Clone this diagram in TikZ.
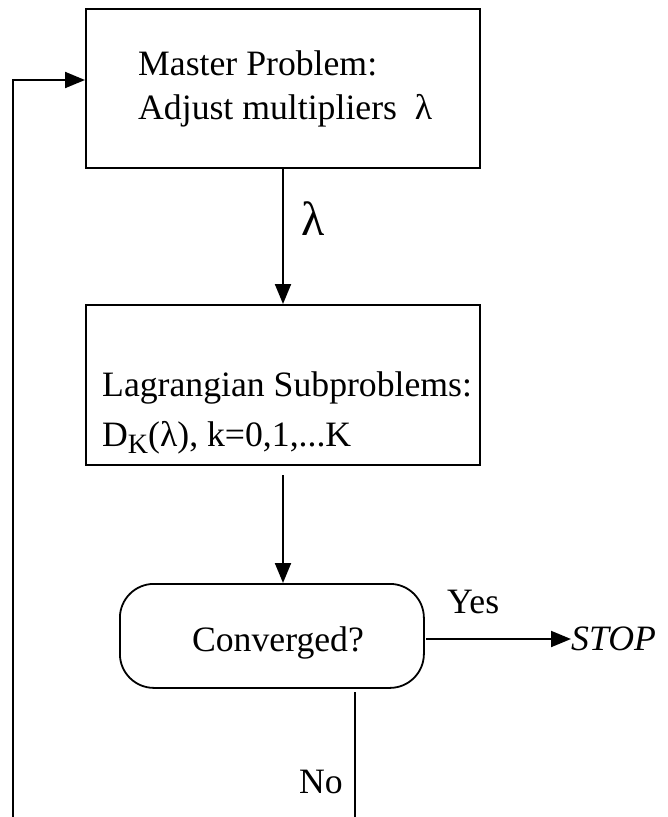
\documentclass[tikz,border=0pt]{standalone}
\usepackage{fontspec}
\setmainfont{Liberation Serif}
\usetikzlibrary{arrows.meta}
\begin{document}
\begin{tikzpicture}[x=1pt,y=-1pt,
  txt/.style={font=\fontsize{35.7}{50}\selectfont, inner sep=0pt},
  boxframe/.style={draw, line width=2.4pt, inner sep=0pt},
  decision/.style={draw, line width=1.8pt, rounded corners=34pt, inner sep=0pt},
  link/.style={line width=2pt, -{Triangle[length=20pt,width=16pt]}},
  plainlink/.style={line width=2pt}]
  \useasboundingbox (0,0) rectangle (667,817);

  % process boxes
  \node[boxframe, minimum width=394pt, minimum height=159pt, anchor=north west] (master) at (85,8) {};
  \node[boxframe, minimum width=394pt, minimum height=160pt, anchor=north west] (sub) at (85,304) {};
  \node[decision, minimum width=304pt, minimum height=104pt, anchor=north west] (conv) at (119,583) {};

  % box texts
  \node[txt, anchor=base west] (mt1) at (138,75) {Master Problem:};
  \node[txt, anchor=base west] (mt2) at (138,119) {Adjust multipliers\ \ λ};
  \node[txt, anchor=base west] (st1) at (102,396) {Lagrangian Subproblems:};
  \node[txt, anchor=base west] (st2) at (102,446) {D\raisebox{-0.22em}{\fontsize{28}{30}\selectfont K}(λ), k=0,1,...K};
  \node[txt, anchor=base] (ct) at (278,651) {Converged?};

  % connectors
  \coordinate (mb) at (283,167);
  \coordinate (st) at (283,304);
  \coordinate (sb) at (283,475);
  \coordinate (ctop) at (283,583);
  \draw[link] (mb) -- (st);
  \node[font=\fontsize{48}{50}\selectfont, inner sep=0pt, anchor=base west] (lam) at (301,235) {λ};
  \draw[link] (sb) -- (ctop);

  % exit branch
  \coordinate (yesstart) at (426,639);
  \node[txt, anchor=base west] (stop) at (571,650) {\itshape STOP};
  \draw[link] (yesstart) -- (stop.west |- yesstart);
  \node[txt, anchor=base west] (yes) at (447,613) {Yes};

  % repeat branch
  \coordinate (nostart) at (355,692);
  \coordinate (noend) at (355,817);
  \draw[plainlink] (nostart) -- (noend);
  \node[txt, anchor=base east] (no) at (343,793) {No};

  % feedback line into the master problem
  \coordinate (loopbot) at (13,817);
  \draw[link] (loopbot) |- (master.west |- 0,80);
\end{tikzpicture}
\end{document}
